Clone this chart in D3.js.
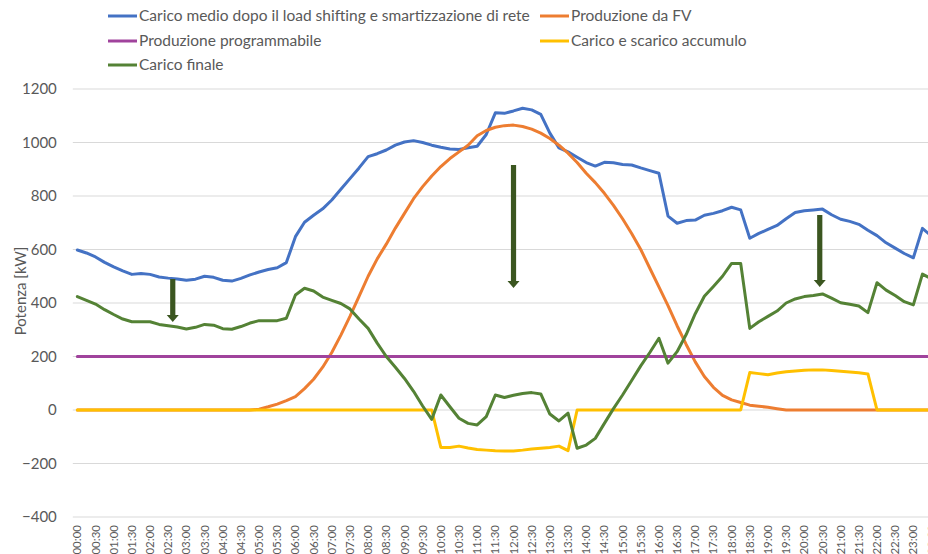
<!DOCTYPE html>
<html>
<head>
<meta charset="utf-8">
<script src="https://cdn.jsdelivr.net/npm/d3@7"></script>
<style>
  html, body { margin: 0; padding: 0; background: #fff; }
  svg { display: block; }
  text { font-family: Lato, "Open Sans", sans-serif; fill: #595959; }
</style>
</head>
<body>
<svg id="chart" width="928" height="554"></svg>
<script>
// ---------- DATA ----------
const categories = [
  "00:00","00:15","00:30","00:45","01:00","01:15","01:30","01:45",
  "02:00","02:15","02:30","02:45","03:00","03:15","03:30","03:45",
  "04:00","04:15","04:30","04:45","05:00","05:15","05:30","05:45",
  "06:00","06:15","06:30","06:45","07:00","07:15","07:30","07:45",
  "08:00","08:15","08:30","08:45","09:00","09:15","09:30","09:45",
  "10:00","10:15","10:30","10:45","11:00","11:15","11:30","11:45",
  "12:00","12:15","12:30","12:45","13:00","13:15","13:30","13:45",
  "14:00","14:15","14:30","14:45","15:00","15:15","15:30","15:45",
  "16:00","16:15","16:30","16:45","17:00","17:15","17:30","17:45",
  "18:00","18:15","18:30","18:45","19:00","19:15","19:30","19:45",
  "20:00","20:15","20:30","20:45","21:00","21:15","21:30","21:45",
  "22:00","22:15","22:30","22:45","23:00","23:15","23:30","23:45"
];

const tickLabels = [
  "00:00","00:30","01:00","01:30","02:00","02:30","03:00","03:30",
  "04:00","04:30","05:00","05:30","06:00","06:30","07:00","07:30",
  "08:00","08:30","09:00","09:30","10:00","10:30","11:00","11:30",
  "12:00","12:30","13:00","13:30","14:00","14:30","15:00","15:30",
  "16:00","16:30","17:00","17:30","18:00","18:30","19:00","19:30",
  "20:00","20:30","21:00","21:30","22:00","22:30","23:00","23:30"
];

const yTicks = [-400, -200, 0, 200, 400, 600, 800, 1000, 1200];

// Carico medio dopo il load shifting e smartizzazione di rete
const caricoMedio = [
  598, 587, 572, 552, 535, 520, 507, 510, 507, 497, 493, 490, 485, 489, 500, 496,
  485, 482, 492, 505, 516, 525, 532, 551, 648, 702, 728, 752, 785, 825, 865, 905,
  947, 958, 972, 990, 1002, 1007, 1000, 990, 982, 976, 974, 980, 986, 1030, 1111, 1109,
  1118, 1128, 1122, 1105, 1035, 980, 965, 945, 925, 912, 926, 924, 918, 916, 905, 895,
  885, 725, 698, 708, 710, 728, 735, 745, 758, 748, 642, 660, 675, 690, 715, 738,
  745, 748, 751, 730, 713, 705, 694, 672, 652, 625, 605, 585, 569, 679, 650, 640
];

// Produzione da FV
const produzioneFV = [
  0, 0, 0, 0, 0, 0, 0, 0, 0, 0, 0, 0, 0, 0, 0, 0,
  0, 0, 0, 0, 3, 12, 22, 35, 50, 80, 115, 160, 215, 280, 350, 425,
  500, 565, 620, 680, 735, 790, 835, 875, 910, 940, 965, 990, 1025, 1045, 1057, 1063,
  1065, 1060, 1050, 1035, 1015, 990, 960, 925, 885, 850, 810, 765, 715, 660, 600, 530,
  460, 390, 315, 245, 180, 125, 85, 55, 38, 28, 18, 14, 10, 5, 0, 0,
  0, 0, 0, 0, 0, 0, 0, 0, 0, 0, 0, 0, 0, 0, 0, 0
];

// Produzione programmabile
const produzioneProgrammabile = [
  200, 200, 200, 200, 200, 200, 200, 200, 200, 200, 200, 200, 200, 200, 200, 200,
  200, 200, 200, 200, 200, 200, 200, 200, 200, 200, 200, 200, 200, 200, 200, 200,
  200, 200, 200, 200, 200, 200, 200, 200, 200, 200, 200, 200, 200, 200, 200, 200,
  200, 200, 200, 200, 200, 200, 200, 200, 200, 200, 200, 200, 200, 200, 200, 200,
  200, 200, 200, 200, 200, 200, 200, 200, 200, 200, 200, 200, 200, 200, 200, 200,
  200, 200, 200, 200, 200, 200, 200, 200, 200, 200, 200, 200, 200, 200, 200, 200
];

// Carico e scarico accumulo
const accumulo = [
  0, 0, 0, 0, 0, 0, 0, 0, 0, 0, 0, 0, 0, 0, 0, 0,
  0, 0, 0, 0, 0, 0, 0, 0, 0, 0, 0, 0, 0, 0, 0, 0,
  0, 0, 0, 0, 0, 0, 0, 0, -140, -140, -135, -142, -148, -150, -152, -153,
  -153, -150, -146, -143, -140, -135, -152, 0, 0, 0, 0, 0, 0, 0, 0, 0,
  0, 0, 0, 0, 0, 0, 0, 0, 0, 0, 140, 136, 132, 138, 143, 146,
  149, 150, 150, 148, 145, 142, 139, 135, 0, 0, 0, 0, 0, 0, 0, 0
];

// Carico finale
const caricoFinale = [
  424, 410, 396, 375, 357, 340, 330, 330, 330, 320, 315, 310, 303, 309, 320, 317,
  304, 302, 312, 325, 334, 334, 334, 343, 430, 455, 445, 422, 410, 398, 378, 340,
  305, 250, 200, 160, 118, 70, 15, -35, 56, 12, -31, -50, -56, -25, 56, 47,
  55, 62, 65, 60, -15, -41, -12, -143, -131, -106, -50, 5, 56, 110, 165, 215,
  268, 175, 218, 282, 360, 425, 462, 500, 548, 548, 305, 330, 350, 370, 400, 415,
  424, 428, 434, 418, 401, 395, 389, 364, 476, 448, 428, 405, 393, 508, 490, 470
];

const seriesNames = [
  "Carico medio dopo il load shifting e smartizzazione di rete",
  "Produzione da FV",
  "Produzione programmabile",
  "Carico e scarico accumulo",
  "Carico finale"
];
const seriesColors = ["#4472C4", "#ED7D31", "#A0439C", "#FFC000", "#548235"];

// Annotation arrows (category position, from value, to value)
const arrowAt = [10.5, 48, 81.7];
const arrowFrom = [490, 916, 729];
const arrowTo = [329, 456, 460];

const yTitle = "Potenza [kW]";

// ---------- CHART ----------
const svg = d3.select("#chart");
const plot = { left: 72.8, top: 89, bottom: 517, step: 9.087 };
plot.right = plot.left + categories.length * plot.step;

const x = d3.scaleLinear()
  .domain([-0.5, categories.length - 0.5])
  .range([plot.left, plot.right]);
const y = d3.scaleLinear().domain([-400, 1200]).range([plot.bottom, plot.top]);

// gridlines
svg.append("g").selectAll("line").data(yTicks).join("line")
  .attr("x1", plot.left).attr("x2", plot.right)
  .attr("y1", d => y(d)).attr("y2", d => y(d))
  .attr("stroke", "#D9D9D9").attr("stroke-width", 1);

// y axis labels
const yAxis = d3.axisLeft(y).tickValues(yTicks).tickSize(0).tickPadding(0).tickFormat(d3.format("d"));
const gy = svg.append("g").attr("transform", `translate(${plot.left - 16},0)`).call(yAxis);
gy.select(".domain").remove();
gy.selectAll("text").style("font-size", "15px").style("fill", "#595959")
  .style("font-family", "Lato, 'Open Sans', sans-serif");

// x axis labels
const idxOf = new Map(categories.map((c, i) => [c, i]));
const gx = svg.append("g");
gx.selectAll("text").data(tickLabels).join("text")
  .attr("transform", d => `translate(${x(idxOf.get(d))},${plot.bottom + 8}) rotate(-90)`)
  .attr("text-anchor", "end")
  .attr("dy", "0.35em")
  .style("font-size", "11.5px")
  .text(d => d);

// y title
svg.append("text")
  .attr("transform", `translate(21,${(plot.top + plot.bottom) / 2 - 12}) rotate(-90)`)
  .attr("text-anchor", "middle")
  .attr("dy", "0.35em")
  .style("font-size", "15px")
  .text(yTitle);

// lines
const seriesData = [caricoMedio, produzioneFV, produzioneProgrammabile, accumulo, caricoFinale];
const line = d3.line().x((d, i) => x(i)).y(d => y(d));
const gLines = svg.append("g");
seriesData.forEach((data, k) => {
  gLines.append("path")
    .datum(data)
    .attr("d", line)
    .attr("fill", "none")
    .attr("stroke", seriesColors[k])
    .attr("stroke-width", 3)
    .attr("stroke-linejoin", "round")
    .attr("stroke-linecap", "round");
});

// arrows
const arrowColor = "#3B5620";
const gArr = svg.append("g");
arrowAt.forEach((t, i) => {
  const ax = x(t), y0 = y(arrowFrom[i]), y1 = y(arrowTo[i]);
  const headH = 7, headW = 6, shaftW = 2.6;
  gArr.append("path")
    .attr("d", `M${ax - shaftW},${y0} L${ax + shaftW},${y0} L${ax + shaftW},${y1 - headH}
      L${ax + headW},${y1 - headH} L${ax},${y1} L${ax - headW},${y1 - headH}
      L${ax - shaftW},${y1 - headH} Z`)
    .attr("fill", arrowColor);
});

// legend
const legendPos = [
  { x: 108, y: 16 }, { x: 540, y: 16 },
  { x: 108, y: 41 }, { x: 540, y: 41 },
  { x: 108, y: 65 }
];
const gLeg = svg.append("g");
seriesNames.forEach((name, k) => {
  const p = legendPos[k];
  gLeg.append("line")
    .attr("x1", p.x).attr("x2", p.x + 29)
    .attr("y1", p.y).attr("y2", p.y)
    .attr("stroke", seriesColors[k]).attr("stroke-width", 3);
  gLeg.append("text")
    .attr("x", p.x + 31).attr("y", p.y)
    .attr("dy", "0.35em")
    .style("font-size", "15.5px")
    .text(name);
});
</script>
</body>
</html>
